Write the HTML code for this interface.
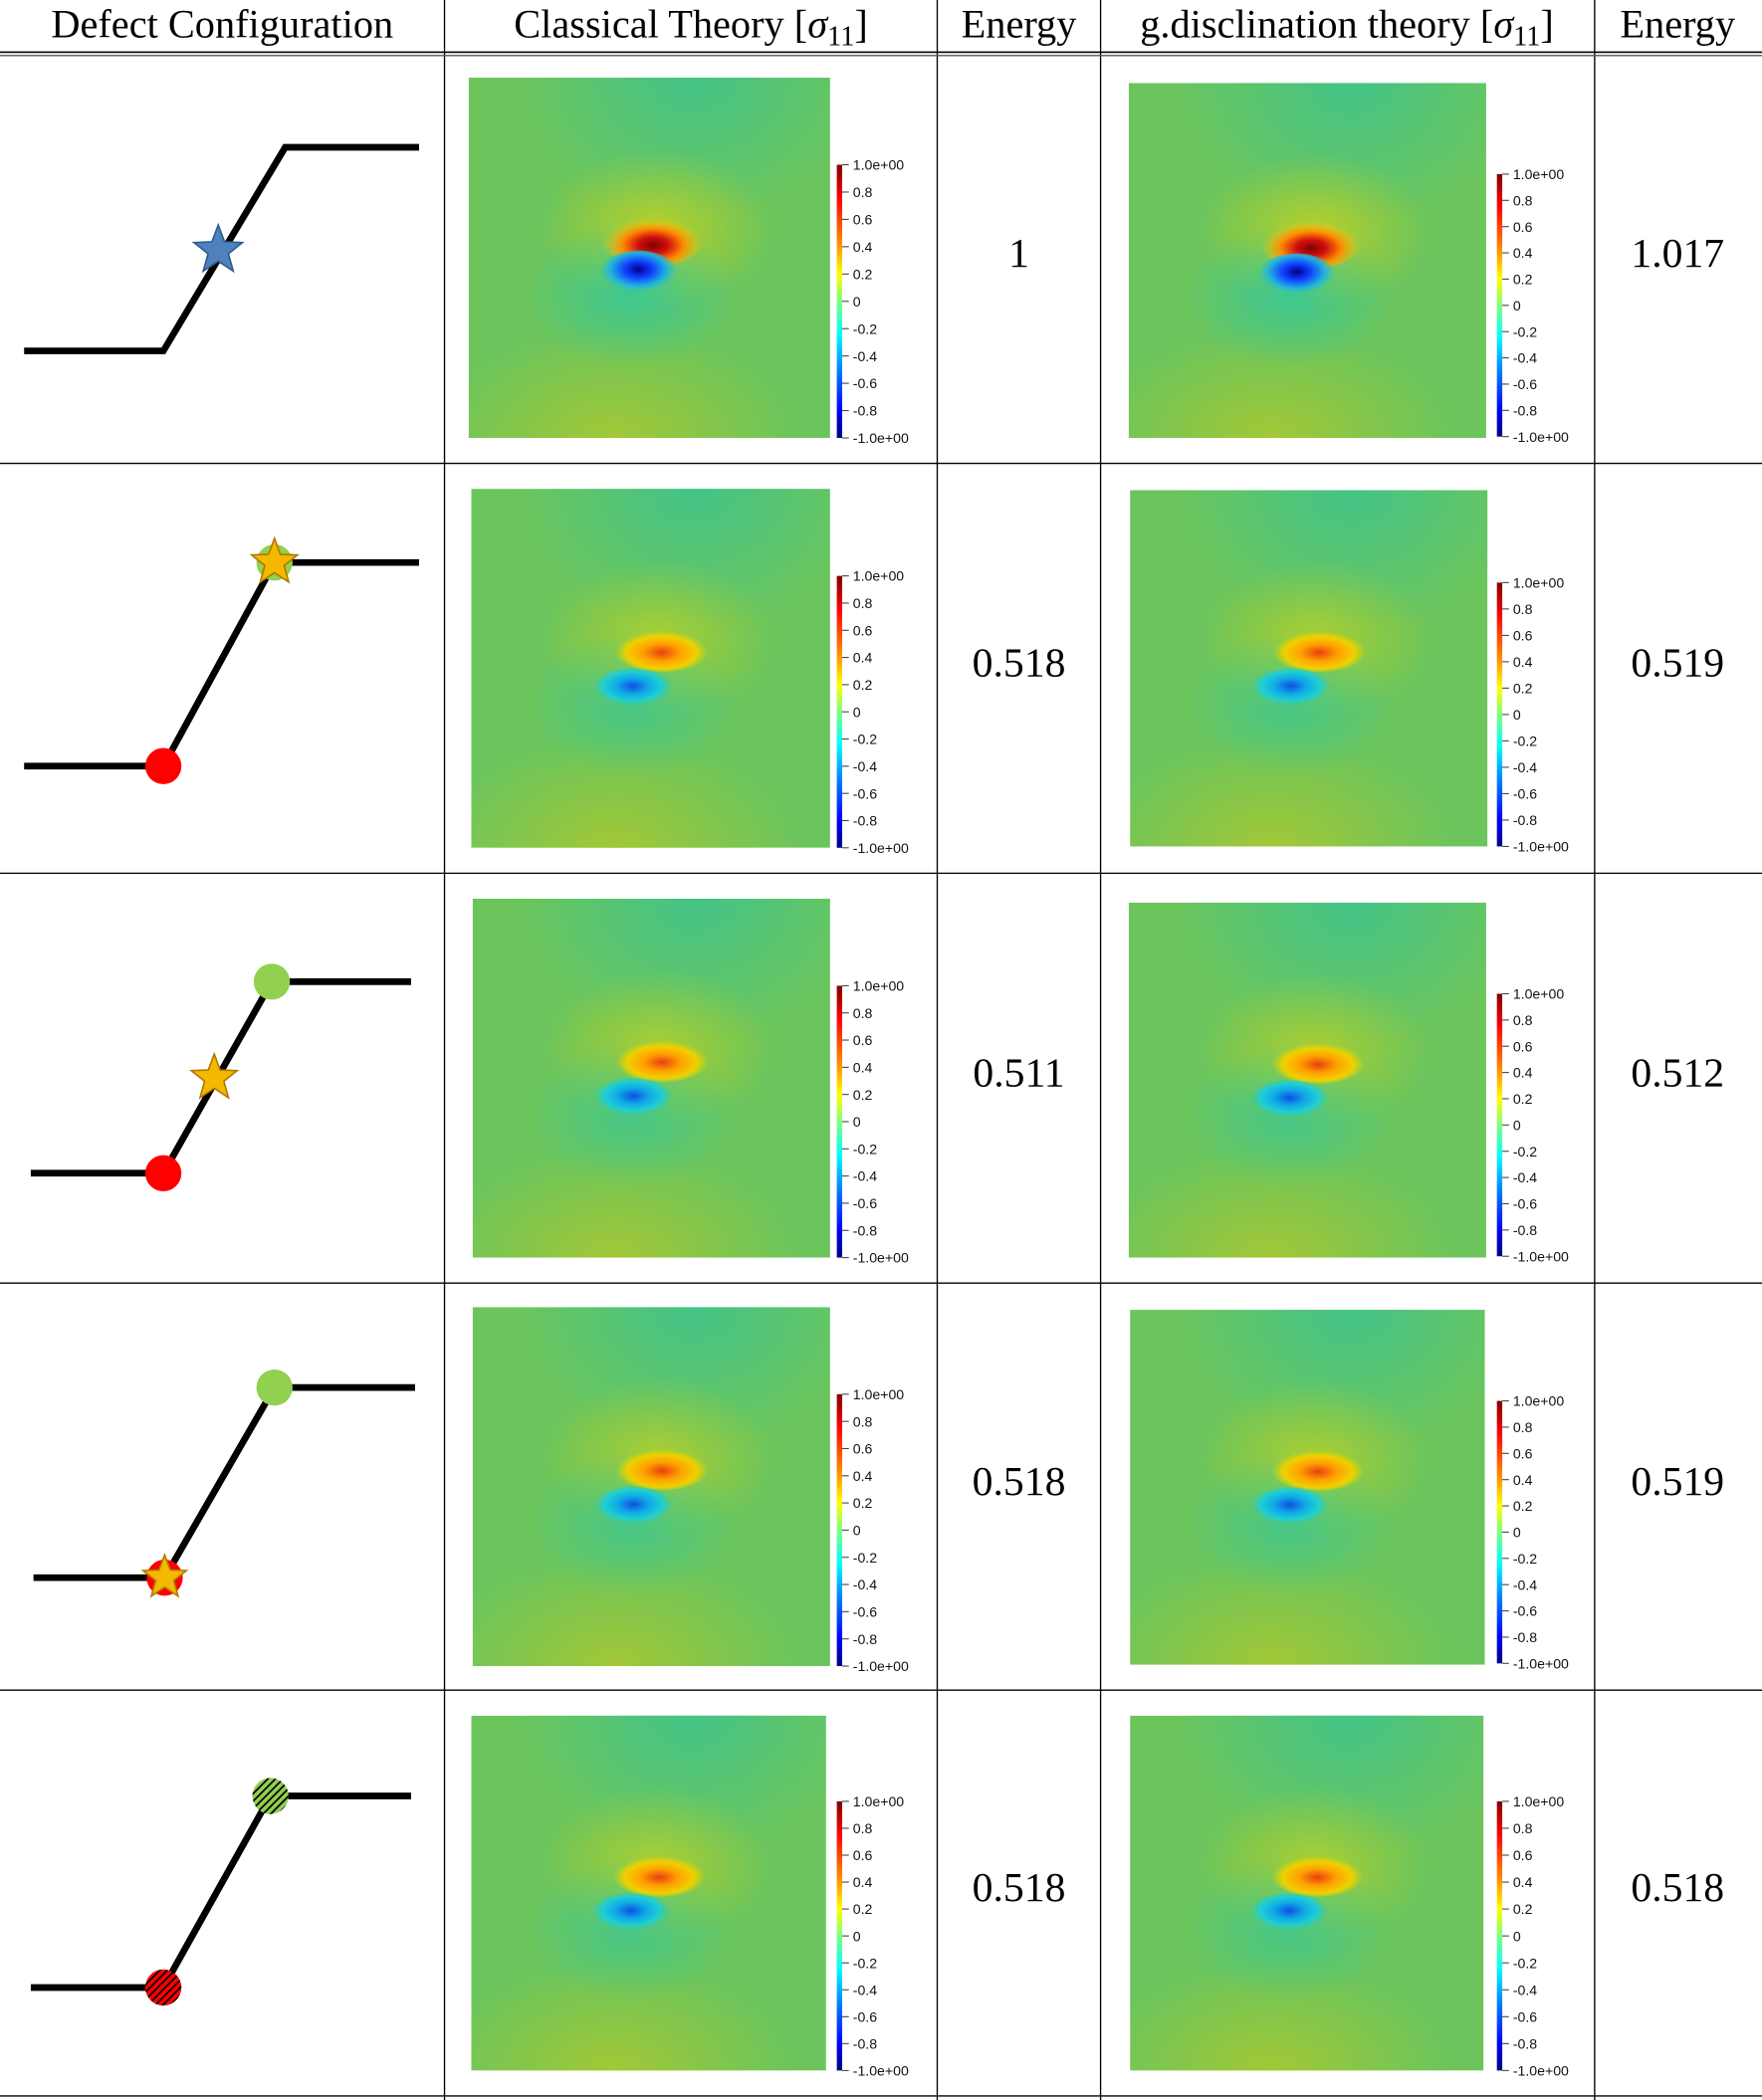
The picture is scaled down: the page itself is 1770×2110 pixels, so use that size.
<!DOCTYPE html>
<html><head><meta charset="utf-8"><style>
html,body{margin:0;padding:0;background:#fff;}
svg{display:block;}
text{font-family:"Liberation Serif",serif;}
.cb{font-family:"Liberation Sans",sans-serif;font-size:10.5px;fill:#111;}
</style></head><body>
<svg id="fig" width="1770" height="2110" viewBox="0 0 1316 1568" preserveAspectRatio="none" xmlns="http://www.w3.org/2000/svg">
<defs>
<linearGradient id="jet" x1="0" y1="0" x2="0" y2="1">
<stop offset="0" stop-color="#800000"/><stop offset="0.12" stop-color="#ff0000"/><stop offset="0.3" stop-color="#ff9900"/><stop offset="0.4" stop-color="#ffff00"/><stop offset="0.5" stop-color="#80ff80"/><stop offset="0.62" stop-color="#00ffff"/><stop offset="0.75" stop-color="#0080ff"/><stop offset="0.9" stop-color="#0000ff"/><stop offset="1" stop-color="#000080"/>
</linearGradient>
<radialGradient id="topTeal" cx="0.5" cy="0.5" r="0.5"><stop offset="0" stop-color="#3fc48c" stop-opacity="0.9"/><stop offset="1" stop-color="#3fc48c" stop-opacity="0"/></radialGradient>
<radialGradient id="botYel" cx="0.5" cy="0.5" r="0.5"><stop offset="0" stop-color="#a8c832" stop-opacity="0.9"/><stop offset="1" stop-color="#a8c832" stop-opacity="0"/></radialGradient>
<radialGradient id="halo" cx="0.5" cy="0.5" r="0.5"><stop offset="0" stop-color="#c8d21e" stop-opacity="0.9"/><stop offset="1" stop-color="#c8d21e" stop-opacity="0"/></radialGradient>
<radialGradient id="haloB" cx="0.5" cy="0.5" r="0.5"><stop offset="0" stop-color="#28c8a8" stop-opacity="0.9"/><stop offset="1" stop-color="#28c8a8" stop-opacity="0"/></radialGradient>
<radialGradient id="redS" cx="0.5" cy="0.6" r="0.5"><stop offset="0" stop-color="#800000"/><stop offset="0.3" stop-color="#d01010"/><stop offset="0.6" stop-color="#ff8800"/><stop offset="1" stop-color="#ffd000" stop-opacity="0"/></radialGradient>
<radialGradient id="blueS" cx="0.5" cy="0.4" r="0.5"><stop offset="0" stop-color="#000090"/><stop offset="0.35" stop-color="#1040ff"/><stop offset="0.7" stop-color="#20b0e0"/><stop offset="1" stop-color="#30c8c0" stop-opacity="0"/></radialGradient>
<radialGradient id="redW" cx="0.5" cy="0.55" r="0.5"><stop offset="0" stop-color="#e84010"/><stop offset="0.4" stop-color="#ffa000"/><stop offset="0.75" stop-color="#f0d000"/><stop offset="1" stop-color="#d8d800" stop-opacity="0"/></radialGradient>
<radialGradient id="blueW" cx="0.5" cy="0.45" r="0.5"><stop offset="0" stop-color="#1050e0"/><stop offset="0.4" stop-color="#10a8e8"/><stop offset="0.75" stop-color="#20d0d0"/><stop offset="1" stop-color="#30c8b0" stop-opacity="0"/></radialGradient>
<pattern id="hatchG" patternUnits="userSpaceOnUse" width="4" height="4" patternTransform="rotate(45)"><rect width="4" height="4" fill="#92d050"/><rect width="1.3" height="4" fill="#000"/></pattern>
<pattern id="hatchR" patternUnits="userSpaceOnUse" width="4" height="4" patternTransform="rotate(45)"><rect width="4" height="4" fill="#ff0000"/><rect width="1.3" height="4" fill="#000"/></pattern>
</defs>
<g id="grid"></g>
<g id="content"></g>
</svg>
<script>
const energyClassical = ["1", "0.518", "0.511", "0.518", "0.518"];
const energyGdiscl = ["1.017", "0.519", "0.512", "0.519", "0.518"];
const colorbarTicks = ["1.0e+00","0.8","0.6","0.4","0.2","0","-0.2","-0.4","-0.6","-0.8","-1.0e+00"];
const dipoleStrength = [1, 0.5, 0.5, 0.5, 0.5];

const NS="http://www.w3.org/2000/svg";
const svg=document.getElementById('fig');
const grid=document.getElementById('grid');
const content=document.getElementById('content');
const defs=svg.querySelector('defs');
function mk(tag,attrs,parent){const e=document.createElementNS(NS,tag);for(const k in attrs)e.setAttribute(k,attrs[k]);(parent||content).appendChild(e);return e;}

[332,700,822,1191].forEach(x=>{const l=mk('line',{x1:x,y1:0,x2:x,y2:1568,stroke:'#000','stroke-width':1},grid);

});
mk('line',{x1:0,y1:39,x2:1316,y2:39,stroke:'#000','stroke-width':1.2},grid);
mk('line',{x1:0,y1:41.5,x2:1316,y2:41.5,stroke:'#555','stroke-width':1},grid);
[346,652,958,1262,1565].forEach(y=>{const l=mk('line',{x1:0,y1:y,x2:1316,y2:y,stroke:'#000','stroke-width':1},grid);

});

function header(cx,html,name){const t=mk('text',{x:cx,y:28,'text-anchor':'middle','font-size':30});t.innerHTML=html;

}
header(166,'Defect Configuration','header-defect-configuration');
header(516,'Classical Theory [<tspan font-style="italic">σ</tspan><tspan font-size="21" dy="6">11</tspan><tspan dy="-6">]</tspan>','header-classical-theory');
header(761,'Energy','header-energy-classical');
header(1006,'g.disclination theory [<tspan font-style="italic">σ</tspan><tspan font-size="21" dy="6">11</tspan><tspan dy="-6">]</tspan>','header-gdisclination-theory');
header(1253,'Energy','header-energy-gdisclination');

let clipN=0;
function heatmap(x0,y0,x1,y1,cbTop,cbBot,cbx,s,name){
  const g=mk('g',{});
  
  
  const w=x1-x0,h=y1-y0;
  const cid='clip'+(clipN++);
  const cp=mk('clipPath',{id:cid},defs);
  mk('rect',{x:x0,y:y0,width:w,height:h},cp);
  const m=mk('g',{'clip-path':'url(#'+cid+')'},g);
  mk('rect',{x:x0,y:y0,width:w,height:h,fill:'#6cc55c'},m);
  mk('ellipse',{cx:x0+w*0.62,cy:y0,rx:w*0.5,ry:h*0.4,fill:'url(#topTeal)'},m);
  mk('ellipse',{cx:x0+w*0.4,cy:y1,rx:w*0.5,ry:h*0.3,fill:'url(#botYel)'},m);
  mk('ellipse',{cx:x0+w*0.52,cy:y0+h*0.42,rx:w*0.32,ry:h*0.22,fill:'url(#halo)',opacity:0.6+0.3*s},m);
  mk('ellipse',{cx:x0+w*0.45,cy:y0+h*0.6,rx:w*0.3,ry:h*0.2,fill:'url(#haloB)',opacity:0.5+0.3*s},m);
  if(s>0.8){
    mk('ellipse',{cx:x0+w*0.51,cy:y0+h*0.45,rx:w*0.14,ry:h*0.075,fill:'url(#redS)'},m);
    mk('ellipse',{cx:x0+w*0.47,cy:y0+h*0.545,rx:w*0.11,ry:h*0.065,fill:'url(#blueS)'},m);
  } else {
    mk('ellipse',{cx:x0+w*0.53,cy:y0+h*0.45,rx:w*0.13,ry:h*0.06,fill:'url(#redW)'},m);
    mk('ellipse',{cx:x0+w*0.45,cy:y0+h*0.555,rx:w*0.11,ry:h*0.055,fill:'url(#blueW)'},m);
  }
  mk('rect',{x:cbx,y:cbTop,width:4,height:cbBot-cbTop,fill:'url(#jet)'},g);
  colorbarTicks.forEach((lab,i)=>{
    const y=cbTop+(cbBot-cbTop)*i/(colorbarTicks.length-1);
    mk('line',{x1:cbx+4,y1:y,x2:cbx+9,y2:y,stroke:'#444','stroke-width':0.8},g);
    const t=mk('text',{x:cbx+12,y:y+3.8,class:'cb'},g);t.textContent=lab;
  });
}
const hmC=[[350,58,620,327,123,327,625],[352,365,620,633,430,633,625],[353,671,620,939,736,939,625],[353,976,620,1244,1041,1244,625],[352,1281,617,1546,1345,1546,625]];
const hmG=[[843,62,1110,327,130,326,1118],[844,366,1111,632,435,632,1118],[843,674,1110,939,742,938,1118],[844,978,1109,1243,1046,1242,1118],[844,1281,1108,1546,1345,1546,1118]];
const rowY=[40,346,652,958,1262,1565];
for(let r=0;r<5;r++){
  const a=hmC[r],b=hmG[r];
  heatmap(a[0],a[1],a[2],a[3],a[4],a[5],a[6],dipoleStrength[r],'classical-stress-map-row'+(r+1));
  heatmap(b[0],b[1],b[2],b[3],b[4],b[5],b[6],dipoleStrength[r],'gdisclination-stress-map-row'+(r+1));
  const cy=(rowY[r]+rowY[r+1])/2+6;
  const t1=mk('text',{x:761,y:cy,'text-anchor':'middle','font-size':31});t1.textContent=energyClassical[r];
  
  
  const t2=mk('text',{x:1253,y:cy,'text-anchor':'middle','font-size':31});t2.textContent=energyGdiscl[r];
  
  
}

function star(cx,cy,R,fill,stroke){let p=[];for(let i=0;i<10;i++){const rr=i%2?R*0.42:R;const an=-Math.PI/2+i*Math.PI/5;p.push((cx+rr*Math.cos(an)).toFixed(1)+','+(cy+rr*Math.sin(an)).toFixed(1));}
 return mk('polygon',{points:p.join(' '),fill:fill,stroke:stroke,'stroke-width':1.2});}
const configs=[
 {pts:[[18,262],[122,262],[213,110],[313,110]],items:[['star',163,187,'#4f81bd','#2e5c8f',19]]},
 {pts:[[18,572],[122,572],[205,420],[313,420]],items:[['circ',122,572,'#ff0000'],['circ',205,420,'#92d050'],['star',205,420,'#f5b800','#b07800',18]]},
 {pts:[[23,876],[122,876],[203,733],[307,733]],items:[['circ',122,876,'#ff0000'],['circ',203,733,'#92d050'],['star',160,805,'#f5b800','#b07800',18]]},
 {pts:[[25,1178],[123,1178],[205,1036],[310,1036]],items:[['circ',205,1036,'#92d050'],['circ',123,1178,'#ff0000'],['star',123,1178,'#f5b800','#b07800',17]]},
 {pts:[[23,1484],[122,1484],[202,1341],[307,1341]],items:[['circ',202,1341,'url(#hatchG)'],['circ',122,1484,'url(#hatchR)']]}
];
configs.forEach((c,r)=>{
  const g=mk('g',{});
  
  
  mk('polyline',{points:c.pts.map(p=>p.join(',')).join(' '),fill:'none',stroke:'#000','stroke-width':5,'stroke-linejoin':'miter'},g);
  c.items.forEach(it=>{
    if(it[0]==='circ'){mk('circle',{cx:it[1],cy:it[2],r:13.5,fill:it[3]},g);}
    else {const e=star(it[1],it[2],it[5],it[3],it[4]);g.appendChild(e);}
  });
});
</script>
</body></html>
